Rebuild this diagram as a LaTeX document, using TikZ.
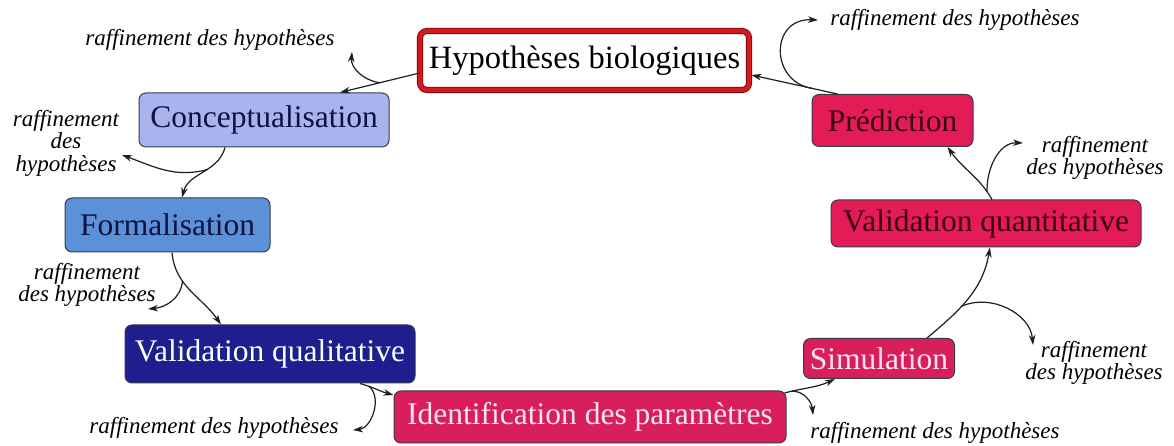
\documentclass[tikz,border=0pt]{standalone}
\usepackage{fontspec}
\setmainfont{Liberation Serif}
\usetikzlibrary{arrows.meta,calc}

\definecolor{linegray}{HTML}{1E1E1E}
\definecolor{boxline}{HTML}{3A3A4A}
\definecolor{hypred}{HTML}{D8181E}
\definecolor{hypdark}{HTML}{6A0A0A}
\definecolor{conceptfill}{HTML}{A9B4EF}
\definecolor{formalfill}{HTML}{5C90D8}
\definecolor{qualfill}{HTML}{1E1E8E}
\definecolor{crimson}{HTML}{D91E5C}
\definecolor{crimsonb}{HTML}{E31C58}
\definecolor{navytext}{HTML}{0E1240}
\definecolor{pinktext}{HTML}{FBE6EE}
\definecolor{wine}{HTML}{3A0012}

\begin{document}
\begin{tikzpicture}[x=1pt,y=1pt,
  box/.style={draw=boxline, line width=1pt, rounded corners=7pt, inner sep=0pt,
              font=\fontsize{31.5}{33}\selectfont},
  note/.style={font=\fontsize{23}{20}\selectfont\itshape, align=center, inner sep=1pt},
  flow/.style={draw=linegray, line width=1.2pt,
               -{Stealth[length=10pt,width=6.5pt,inset=3pt]}}]

\useasboundingbox[fill=white] (0,0) rectangle (1174,446);

% stages of the modelling cycle
\node[box, draw=hypdark, double=hypred, double distance=4.5pt, line width=0.8pt,
      fill=white, text=black, minimum width=329pt, minimum height=59pt,
      font=\fontsize{32.5}{34}\selectfont]
      (hyp) at (584.5,385.5) {Hypothèses biologiques};
\node[box, fill=conceptfill, text=navytext, minimum width=250pt, minimum height=54pt]
      (concept) at (264,326) {Conceptualisation};
\node[box, fill=formalfill, text=navytext, minimum width=205pt, minimum height=54pt]
      (formal) at (167.5,221) {Formalisation};
\node[box, fill=qualfill, text=white, minimum width=290pt, minimum height=58pt]
      (valqual) at (270,92) {Validation qualitative};
\node[box, fill=crimson, text=pinktext, minimum width=392pt, minimum height=52pt]
      (ident) at (590,29) {Identification des paramètres};
\node[box, fill=crimson, text=pinktext, minimum width=151pt, minimum height=40pt]
      (simul) at (879,87.5) {Simulation};
\node[box, fill=crimsonb, text=wine, minimum width=310pt, minimum height=47pt]
      (valquant) at (986,222.5) {Validation quantitative};
\node[box, fill=crimsonb, text=wine, minimum width=161pt, minimum height=52pt]
      (pred) at (892.5,325.5) {Prédiction};

% refinement notes
\node[note] (L1) at (210,406) {raffinement des hypothèses};
\node[note, font=\fontsize{23}{22.5}\selectfont\itshape] (L2) at (66,303) {raffinement\\des\\hypothèses};
\node[note] (L3) at (87,161) {raffinement\\des hypothèses};
\node[note] (L4) at (214,18) {raffinement des hypothèses};
\node[note] (L5) at (935,13) {raffinement des hypothèses};
\node[note] (L6) at (1094,83) {raffinement\\des hypothèses};
\node[note] (L7) at (1095,288) {raffinement\\des hypothèses};
\node[note] (L8) at (955,426) {raffinement des hypothèses};

% tips of the refinement arrows
\coordinate (t1) at (352,394);
\coordinate (t2) at (122,291);
\coordinate (t3) at (148,137);
\coordinate (t4) at (353,16);
\coordinate (t5) at (813,31);
\coordinate (t6) at (1033,101);
\coordinate (t7) at (1023,303);
\coordinate (t8) at (818,426);

% main cycle
\draw[flow] ([yshift=-12.5pt]hyp.west) -- coordinate[pos=0.5] (m1) ([xshift=76pt]concept.north);
\draw[flow] ([xshift=-39pt]concept.south) to[out=-105,in=75] coordinate[pos=0.42] (m2) ([xshift=14.5pt]formal.north);
\draw[flow] ([xshift=4.5pt]formal.south) to[out=-85,in=125] coordinate[pos=0.35] (m3) ([xshift=-49pt]valqual.north);
\draw[flow] ([xshift=90pt]valqual.south) to[out=-15,in=165] coordinate[pos=0.25] (m4) ([yshift=22pt]ident.west);
\draw[flow] ([xshift=-2pt,yshift=24pt]ident.east) to[out=15,in=-155] coordinate[pos=0.12] (m5) ([xshift=-44pt]simul.south);
\draw[flow] ([xshift=48pt]simul.north) to[out=40,in=-100] coordinate[pos=0.4] (m6) ([xshift=4pt]valquant.south);
\draw[flow] ([xshift=6pt]valquant.north) to[out=120,in=-55] coordinate[pos=0.12] (m7) ([xshift=55pt]pred.south);
\draw[flow] ([xshift=-55pt]pred.north) -- coordinate[pos=0.3] (m8) ([xshift=2pt,yshift=-14.5pt]hyp.east);

% refinement branches
\draw[flow] (m1) to[out=172,in=-95] (t1);
\draw[flow] (m2) to[out=-165,in=-20] (t2);
\draw[flow] (m3) to[out=-95,in=5] (t3);
\draw[flow] (m4) to[out=-40,in=5] (t4);
\draw[flow] (m5) to[out=5,in=95] (t5);
\draw[flow] (m6) to[out=25,in=95] (t6);
\draw[flow] (m7) to[out=92,in=178] (t7);
\draw[flow] (m8) .. controls +(-42,7) and +(-48,2) .. (t8);

\end{tikzpicture}
\end{document}
